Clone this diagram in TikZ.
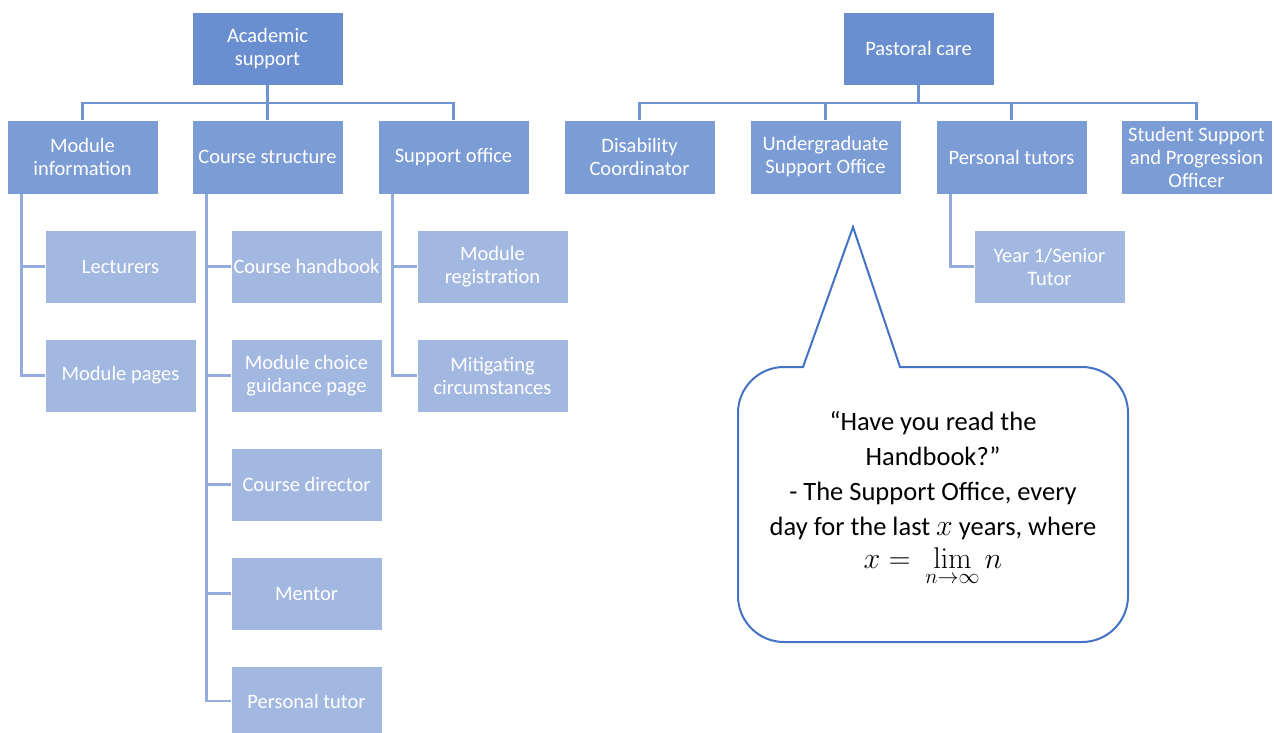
\documentclass[tikz,border=0pt]{standalone}
\usepackage{fix-cm}
\usepackage[no-math]{fontspec}
\setmainfont{Carlito}
\definecolor{lvA}{HTML}{6A8FD0}
\definecolor{lvB}{HTML}{7B9CD5}
\definecolor{lvC}{HTML}{A2B8E1}
\definecolor{lnA}{HTML}{6F92D1}
\definecolor{lnB}{HTML}{93ACDD}
\definecolor{callc}{HTML}{4472C4}
\begin{document}
\begin{tikzpicture}[x=1pt,y=-1pt,
  box/.style={draw=white,line width=0.8pt,minimum width=151pt,text=white,align=center,
    inner sep=0pt,font=\fontsize{20.5}{23}\selectfont},
  boxA/.style={box,fill=lvA,minimum height=73pt},
  boxB/.style={box,fill=lvB,minimum height=74pt},
  boxC/.style={box,fill=lvC,minimum height=73pt},
  connA/.style={draw=lnA,line width=2.4pt},
  connB/.style={draw=lnB,line width=2.4pt}]
\clip (0,0) rectangle (1274,733);
\fill[white] (0,0) rectangle (1274,733);
% level 1
\node[boxA] (acad) at (267.5,48.5) {Academic\\support};
\node[boxA] (past) at (918.5,48.5) {Pastoral care};
% level 2
\node[boxB] (modinfo) at (82.5,157) {Module\\information};
\node[boxB] (cstruct) at (267.5,157) {Course structure};
\node[boxB] (supoff) at (453.5,157) {Support office};
\node[boxB] (disab) at (639.5,157) {Disability\\Coordinator};
\node[boxB] (ugso) at (825.5,157) {Undergraduate\\Support Office};
\node[boxB] (ptutors) at (1011.5,157) {Personal tutors};
\node[boxB] (sspo) at (1196.5,157) {Student Support\\and Progression\\Officer};
% level 3
\node[boxC] (lect) at (120.5,266.5) {Lecturers};
\node[boxC] (modpages) at (120.5,375.5) {Module pages};
\node[boxC] (chand) at (306.5,266.5) {Course handbook};
\node[boxC] (mchoice) at (306.5,375.5) {Module choice\\guidance page};
\node[boxC] (cdir) at (306.5,484.5) {Course director};
\node[boxC] (mentor) at (306.5,593.5) {Mentor};
\node[boxC, minimum height=70pt] (ptutor) at (306.5,701) {Personal tutor};
\node[boxC] (modreg) at (492.5,266.5) {Module\\registration};
\node[boxC] (mitig) at (492.5,375.5) {Mitigating\\circumstances};
\node[boxC] (year1) at (1049.5,266.5) {Year 1/Senior\\Tutor};
% top connectors
\coordinate (jA) at (267.5,103);
\coordinate (jP) at (918.5,103);
\draw[connA] (acad.south) -- (jA);
\draw[connA] (jA) -| (modinfo.north);
\draw[connA] (jA) -- (cstruct.north);
\draw[connA] (jA) -| (supoff.north);
\draw[connA] (past.south) -- (jP);
\draw[connA] (jP) -| (disab.north);
\draw[connA] (jP) -| (ugso.north);
\draw[connA] (jP) -| (ptutors.north);
\draw[connA] (jP) -| (sspo.north);
% child connectors
\draw[connB] ([xshift=15pt]modinfo.south west) |- (lect.west);
\draw[connB] ([xshift=15pt]modinfo.south west) |- (modpages.west);
\draw[connB] ([xshift=15pt]cstruct.south west) |- (chand.west);
\draw[connB] ([xshift=15pt]cstruct.south west) |- (mchoice.west);
\draw[connB] ([xshift=15pt]cstruct.south west) |- (cdir.west);
\draw[connB] ([xshift=15pt]cstruct.south west) |- (mentor.west);
\draw[connB] ([xshift=15pt]cstruct.south west) |- (ptutor.west);
\draw[connB] ([xshift=15pt]supoff.south west) |- (modreg.west);
\draw[connB] ([xshift=15pt]supoff.south west) |- (mitig.west);
\draw[connB] ([xshift=15pt]ptutors.south west) |- (year1.west);
% callout
\draw[callc,line width=2pt,fill=white,line join=miter]
  (803,367) -- (853,227) -- (900,367)
  [rounded corners=46pt] -- (1128,367) -- (1128,642) -- (738,642) -- (738,367)
  [sharp corners] -- cycle;
\node[align=center,font=\fontsize{26.5}{35}\selectfont,text=black,anchor=north] (quote) at (933,408)
  {“Have you read the\\Handbook?”\\- The Support Office, every\\day for the last {\fontsize{30}{35}\selectfont$x$} years, where\\[-2pt]
   {\fontsize{30}{35}\selectfont$\displaystyle x=\ \lim_{\rule{0pt}{13pt}n\to\infty} n$}};
\end{tikzpicture}
\end{document}
